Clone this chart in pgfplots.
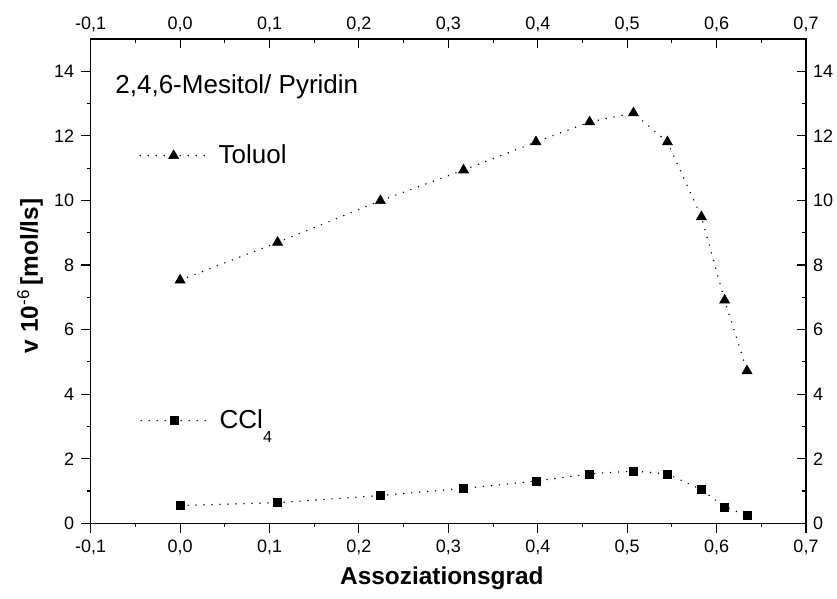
\documentclass[border=0pt]{standalone}
\usepackage{pgfplots}
\usepackage{pgfplotstable}
\pgfplotsset{compat=1.18}
\usepackage{fontspec}
\setmainfont{Liberation Sans}

\pgfplotstableread{
x tol ccl
0.000 7.53 0.55
0.109 8.70 0.64
0.224 9.99 0.86
0.317 10.94 1.08
0.398 11.81 1.31
0.458 12.43 1.53
0.507 12.71 1.62
0.545 11.81 1.53
0.583 9.49 1.04
0.609 6.91 0.51
0.634 4.72 0.24
}\datatable

\pgfplotsset{
  mystyle/.style={
    width=357.65pt, height=242.15pt, scale only axis,
    xmin=-0.1, xmax=0.7, ymin=0, ymax=15,
    xtick={-0.1,0,0.1,0.2,0.3,0.4,0.5,0.6,0.7},
    ytick={0,2,4,6,8,10,12,14},
    minor x tick num=1, minor y tick num=1,
    major tick length=4.75pt, minor tick length=1.8pt,
    axis line style={line width=0.65pt},
    every tick/.style={line width=0.55pt, black},
    ticklabel style={font=\fontsize{9}{11}\selectfont},
    /pgf/number format/assume math mode=true,
    x tick label style={/pgf/number format/.cd, fixed, fixed zerofill, precision=1, use comma},
    y tick label style={/pgf/number format/.cd, fixed, precision=0},
    legend cell align=left,
    legend image code/.code={\draw[##1, mark repeat=2, mark phase=2] plot coordinates {(0pt,0pt) (16.75pt,0pt) (33.5pt,0pt)};},
  },
  myplot/.style={black, line width=0.8pt, line cap=round, dash pattern=on 0pt off 4pt, mark options={solid, fill=black, line width=0.3pt}},
}

\begin{document}
\begin{tikzpicture}
\begin{axis}[mystyle,
  xtick pos=left, ytick pos=left, tick align=outside,
  xlabel={\textbf{Assoziationsgrad}},
  ylabel={\textbf{v 10}\textsuperscript{-6}\,\textbf{[mol/ls]}},
  label style={font=\fontsize{12.2}{14}\selectfont},
  xlabel style={at={(axis description cs:0.491,-0.113)}, anchor=center},
  ylabel style={at={(axis description cs:-0.0849,0.511)}, anchor=center},
  legend style={at={(rel axis cs:0.0675,0.759)}, anchor=west, draw=none, fill=none, inner sep=0pt,
    column sep=5.35pt, nodes={inner sep=0pt}, font=\fontsize{13}{15}\selectfont},
]
\addplot[myplot, mark=triangle*, mark size=2.9pt] table[x=x, y=tol] {\datatable};
\addlegendentry{Toluol}
\coordinate (sw) at (rel axis cs:0,0);
\coordinate (ne) at (rel axis cs:1,1);
\node[anchor=west, inner sep=0pt, font=\fontsize{13}{15}\selectfont] at (rel axis cs:0.034,0.901) {2,4,6-Mesitol/ Pyridin};
\end{axis}
\begin{axis}[mystyle,
  xtick pos=right, ytick pos=right, xticklabel pos=right, yticklabel pos=right, tick align=inside,
  legend style={at={(rel axis cs:0.0689,0.2119)}, anchor=west, draw=none, fill=none, inner sep=0pt,
    column sep=5.35pt, nodes={inner sep=0pt}, font=\fontsize{13}{15}\selectfont},
]
\addplot[myplot, mark=square*, mark size=2pt] table[x=x, y=ccl] {\datatable};
\addlegendentry{CCl\raisebox{-7pt}{\fontsize{8}{8}\selectfont 4}}
\end{axis}
\pgfresetboundingbox
\path ([shift={(-45.35pt,-37.35pt)}]sw) rectangle ([shift={(15.5pt,19.5pt)}]ne);
\end{tikzpicture}
\end{document}
